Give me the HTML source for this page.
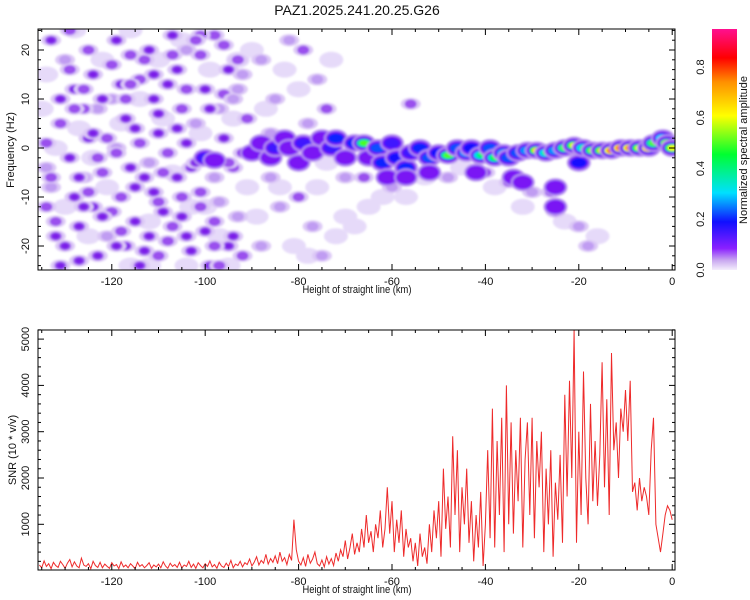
<!DOCTYPE html>
<html><head><meta charset="utf-8">
<style>
html,body{margin:0;padding:0;background:#fff;}
svg{display:block;font-family:"Liberation Sans",sans-serif;}
</style></head>
<body>
<svg id="chart" width="750" height="600" viewBox="0 0 750 600" xmlns="http://www.w3.org/2000/svg">
<defs>
<filter id="blur" x="-50%" y="-50%" width="200%" height="200%"><feGaussianBlur stdDeviation="1"/></filter>
<clipPath id="clipTop"><rect x="38" y="29" width="637" height="241"/></clipPath>
<clipPath id="clipBot"><rect x="38" y="330" width="637" height="240"/></clipPath>
<linearGradient id="cbar" x1="0" y1="1" x2="0" y2="0">
<stop offset="0" stop-color="#f4eefc"/><stop offset="0.04" stop-color="#c9a8f0"/>
<stop offset="0.09" stop-color="#8a20ff"/><stop offset="0.2" stop-color="#1010ff"/>
<stop offset="0.32" stop-color="#00e0ff"/><stop offset="0.48" stop-color="#00ff30"/>
<stop offset="0.64" stop-color="#ffff00"/><stop offset="0.78" stop-color="#ff9000"/>
<stop offset="0.88" stop-color="#ff0000"/><stop offset="1" stop-color="#ff1090"/>
</linearGradient>
</defs>
<text x="357" y="15" font-size="14" text-anchor="middle" fill="#111">PAZ1.2025.241.20.25.G26</text>
<g id="spec"></g>
<g id="snr"></g>
</svg>
<script>
// ---- data: spectrogram ----
const noiseKm=[-133,-130,-128,-131,-129,-133,-128,-132,-130,-127,-125,-124,-123,-125,-122,-124,-121,-123,-119,-118,-117,-119,-116,-118,-115,-117,-114,-113,-112,-111,-110,-112,-111,-109,-108,-107,-106,-105,-104,-106,-105,-103,-101,-100,-102,-99,-101,-100,-99,-96,-95,-97,-96,-94,-97,-95,-93,-92,-134,-126,-121,-115,-108,-103,-98,-113,-120,-127,-110,-104,-116,-131,-126,-120,-108,-98,-93,-92,-88,-85,-82,-79,-76,-74,-78,-86,-84,-80,-77,-75,-88,-56,-60,-48,-40,-35,-30,-26,-25,-20,-18,-86,-70,-66,
-134,-132,-129,-127,-126,-124,-122,-120,-119,-117,-115,-114,-112,-110,-109,-107,-106,-104,-102,-101,-99,-98,-96,-94,-93,-91,-134,-131,-128,-125,-122,-119,-116,-113,-110,-107,-104,-101,-98,-95,-92,-133,-129,-126,-123,-118,-114,-111,-105,-102,-97,-94];
const noiseHz=[22,18,12,5,-2,-8,-10,-15,-20,-23,20,15,8,2,-5,-12,-18,-22,22,13,6,0,-4,-10,-15,-20,-24,18,20,10,3,-3,-9,-13,-19,23,16,8,1,-6,-14,-21,19,12,5,-2,-9,-17,-24,21,16,8,2,-4,-11,-20,12,-1,-4,-6,2,4,-1,-4,-6,-6,-13,-16,-22,20,19,10,8,10,13,23,-14,-22,18,10,22,20,14,8,5,-6,-12,-10,-16,-22,-20,9,-8,-6,-5,-7,-9,-9,-13,-16,-20,3,-6,-6,
1,-18,16,-6,12,3,-14,17,-20,10,-8,14,-18,7,-5,-16,4,12,-3,-12,8,-15,11,-18,18,6,-12,-24,8,-9,10,-1,13,-21,-11,19,-18,23,-20,-3,15,-6,24,-12,-2,-17,1,15,-10,22,-24,10];
const noiseAmp=[.08,.05,.1,.06,.08,.05,.1,.06,.1,.08,.06,.1,.05,.08,.06,.1,.05,.1,.08,.1,.08,.05,.1,.06,.1,.08,.1,.06,.1,.08,.1,.05,.08,.1,.06,.08,.1,.06,.08,.1,.08,.1,.06,.08,.05,.1,.06,.08,.1,.06,.1,.05,.08,.06,.05,.08,.05,.08,.05,.1,.06,.1,.06,.08,.05,.08,.06,.08,.06,.05,.06,.1,.06,.05,.08,.06,.05,.06,.03,.04,.03,.06,.05,.06,.04,.05,.03,.06,.04,.03,.03,.07,.05,.04,.08,.07,.05,.06,.06,.04,.03,.05,.05,.06,
.07,.09,.06,.1,.07,.08,.09,.06,.1,.07,.09,.06,.08,.1,.07,.06,.09,.07,.08,.06,.09,.07,.06,.08,.06,.07,.06,.08,.07,.06,.09,.07,.06,.08,.07,.06,.08,.07,.06,.07,.05,.07,.06,.08,.06,.07,.06,.08,.06,.07,.06,.05];
const lightKm=[-134,-132,-130,-127,-125,-122,-121,-118,-116,-114,-112,-110,-107,-105,-103,-101,-99,-97,-94,-91,-90,-89,-87,-83,-81,-78,-76,-73,-72,-70,-68,-65,-62,-57,-53,-45,-38,-32,-23,-16,-95,-112,-128,-116,-104,-135,-124,-109,-100,-93,-84,-80,-74];
const lightHz=[15,0,-12,4,-18,18,-8,5,-24,10,-15,18,-5,22,-12,3,16,-18,6,-8,20,-14,8,16,-20,-22,-8,18,-18,-14,-16,-12,-10,-10,-6,-4,-8,-12,-15,-18,-24,-24,24,24,-24,8,-2,6,-12,18,-8,12,-3];
const ridgeKm=[-100,-98,-90,-88,-86,-85,-83,-82,-80,-79,-77,-75,-73,-72,-70,-68,-66,-65,-63,-62,-60,-59,-57,-56,-54,-52,-50,-48,-46,-44,-43,-41,-39,-38,-36,-35,-33,-31,-29,-27,-25,-23,-21,-20,-19,-17,-15,-13,-11,-9,-7,-5,-4,-2,-1,0,-61,-57,-52,-42,-34,-32,-25,-25];
const ridgeHz=[-2,-2.5,-1,1,-2,0,2,0,-3,1,-1,2,0,2,-2,1,1,-2,0,-3,1,-2,-4,-1,0,-2,-1,-1.5,0,-1,0,-1.5,0,-2,-1,-2,-1,-0.5,-0.5,-1,-0.5,0,0.5,-3,0,-0.5,-0.5,-0.5,0,0,0,0,1,2,1,0,-6,-6,-5,-5,-6,-7,-8,-12];
const ridgeAmp=[.15,.12,.1,.1,.12,.15,.1,.12,.1,.15,.12,.1,.15,.2,.12,.2,.5,.1,.3,.2,.15,.25,.2,.15,.2,.3,.25,.5,.3,.35,.25,.4,.3,.45,.35,.3,.3,.35,.65,.4,.35,.5,.6,.25,.4,.55,.65,.8,.85,.8,.6,.85,.5,.4,.7,.6,.1,.12,.08,.12,.1,.12,.1,.08];
const xTicks=[-120,-100,-80,-60,-40,-20,0];
const hzTicks=[-20,-10,0,10,20];
const cbTicks=[0,0.2,0.4,0.6,0.8];
const snrTicks=[1000,2000,3000,4000,5000];
// ---- data: SNR (0.5 km steps from -135.5 km) ----
const snrStartKm=-135.5, snrStepKm=0.5;
const snrValues=[120,60,210,90,150,40,180,110,70,200,130,50,160,240,80,190,100,60,270,120,90,150,40,200,110,70,180,60,140,90,50,170,100,130,40,190,80,120,60,150,100,40,180,90,130,60,110,170,50,120,80,140,60,190,100,50,160,90,130,70,180,60,120,90,200,70,140,50,170,110,60,150,90,210,80,130,50,180,100,70,160,90,220,60,140,110,200,80,170,130,250,100,180,300,120,220,160,350,140,260,180,320,150,400,200,280,130,350,220,1100,450,200,120,280,90,350,160,250,400,150,100,230,80,300,140,260,110,380,200,450,300,650,250,500,800,350,600,400,900,500,1200,600,850,400,1000,700,1300,500,900,1800,800,1500,400,1100,600,1300,300,900,500,700,200,600,100,800,300,500,150,1000,400,1300,700,1500,300,2200,900,1600,500,2900,1200,2600,400,1800,1000,2200,600,1500,200,1200,500,1700,100,1000,2600,700,3500,500,2800,1200,3300,400,4000,1000,3200,800,2600,1500,3300,500,2400,3200,1200,3300,700,2800,1800,3000,400,2200,1000,2600,300,1900,1100,2500,600,3800,1600,4100,2000,5200,600,3000,1200,4300,2000,1000,3600,1500,2800,1400,2500,4500,1800,3700,1200,4700,2600,3200,2000,3500,3000,3900,2800,4100,1700,1900,1300,2000,1500,1800,1600,1200,2600,3300,1000,700,400,800,1200,1400,1300,1100];

// ---- scales ----
const NS="http://www.w3.org/2000/svg";
const X0=38,X1=675,KMIN=-135.8,KMAX=0.6;
const xs=km=>X0+(km-KMIN)/(KMAX-KMIN)*(X1-X0);
const yf=hz=>148-hz*4.9;
const ys=v=>570.6-v*0.0463;
const yc=a=>270-a*(270-29)/0.95;
function el(tag,attrs,parent){const e=document.createElementNS(NS,tag);for(const k in attrs)e.setAttribute(k,attrs[k]);parent.appendChild(e);return e;}
const stops=[[0,[244,238,252]],[0.04,[201,168,240]],[0.09,[138,32,255]],[0.2,[16,16,255]],[0.32,[0,224,255]],[0.48,[0,255,48]],[0.64,[255,255,0]],[0.78,[255,144,0]],[0.88,[255,0,0]],[1,[255,16,144]]];
function cmap(a){a=Math.max(0,Math.min(0.99,a/0.95));for(let i=1;i<stops.length;i++){if(a<=stops[i][0]){const t=(a-stops[i-1][0])/(stops[i][0]-stops[i-1][0]);const c=stops[i-1][1].map((v,j)=>Math.round(v+(stops[i][1][j]-v)*t));return `rgb(${c})`;}}return 'rgb(255,16,144)';}

// ---- spectrogram ----
const spec=document.getElementById('spec');
const plotT=el('g',{'clip-path':'url(#clipTop)'},spec);
const blobs=el('g',{filter:'url(#blur)'},plotT);
lightKm.forEach((k,i)=>{
  const e=el('ellipse',{cx:xs(k),cy:yf(lightHz[i]),rx:12,ry:8,fill:'#e6daf9'},blobs);
  
  
});
noiseKm.forEach((k,i)=>{
  const g=el('g',{},blobs);
  
  
  el('ellipse',{cx:xs(k),cy:yf(noiseHz[i]),rx:10,ry:6,fill:'#dcc8f6'},g);
  el('ellipse',{cx:xs(k),cy:yf(noiseHz[i]),rx:6,ry:4.5,fill:noiseAmp[i]>=0.06?'#9a50ee':'#c09cf2'},g);
  if(noiseAmp[i]>=0.08) el('ellipse',{cx:xs(k),cy:yf(noiseHz[i]),rx:4,ry:3,fill:'#7a1ee8'},g);
});
ridgeKm.forEach((k,i)=>{
  const g=el('g',{},blobs);
  
  
  const cx=xs(k),cy=yf(ridgeHz[i]),a=ridgeAmp[i];
  el('ellipse',{cx:cx,cy:cy,rx:12,ry:9,fill:'#b690f0'},g);
  el('ellipse',{cx:cx,cy:cy,rx:10,ry:7,fill:'#7a14f4'},g);
  if(a>0.12) el('ellipse',{cx:cx,cy:cy,rx:8,ry:5,fill:cmap(Math.min(a,0.2))},g);
  if(a>0.2) el('ellipse',{cx:cx,cy:cy,rx:7,ry:4,fill:cmap(a*0.75)},g);
  if(a>0.35) el('ellipse',{cx:cx,cy:cy,rx:4.5,ry:3,fill:cmap(a)},g);
});
function frame(parent,y0,y1,name){
  const r=el('rect',{x:X0,y:y0,width:X1-X0,height:y1-y0,fill:'none',stroke:'#000','stroke-width':1},parent);
  
  
  for(let k=-135;k<=0;k+=5){const x=xs(k),L=(k%20===0)?6:3;
    el('line',{x1:x,x2:x,y1:y1,y2:y1-L,stroke:'#000'},parent);
    el('line',{x1:x,x2:x,y1:y0,y2:y0+L,stroke:'#000'},parent);}
  xTicks.forEach(k=>{const t=el('text',{x:xs(k),y:y1+15,'font-size':11,'text-anchor':'middle',fill:'#111'},parent);t.textContent=k;
    
    });
  const xl=el('text',{x:357,y:y1+23,'font-size':11,'text-anchor':'middle',fill:'#111',transform:`translate(357 0) scale(0.85 1) translate(-357 0)`},parent);
  xl.textContent='Height of straight line (km)';
  
  
}
frame(spec,29,270,'spectrogram-frame');
for(let h=-24;h<=24;h+=2){const y=yf(h),L=(h%10===0)?6:3;
  el('line',{x1:X0,x2:X0+L,y1:y,y2:y,stroke:'#000'},spec);
  el('line',{x1:X1,x2:X1-L,y1:y,y2:y,stroke:'#000'},spec);}
hzTicks.forEach(h=>{const t=el('text',{x:0,y:0,'font-size':11,'text-anchor':'middle',fill:'#111',transform:`translate(29 ${yf(h)}) rotate(-90)`},spec);t.textContent=h;
  
  });
const yl=el('text',{x:0,y:0,'font-size':11,'text-anchor':'middle',fill:'#111',transform:'translate(14 150) rotate(-90)'},spec);
yl.textContent='Frequency (Hz)';


// colorbar
const cb=el('rect',{x:712,y:29,width:25,height:241,fill:'url(#cbar)'},spec);


cbTicks.forEach(a=>{const t=el('text',{x:0,y:0,'font-size':11,'text-anchor':'middle',fill:'#111',transform:`translate(704 ${yc(a)}) rotate(-90)`},spec);t.textContent=a.toFixed(1);
  
  });
const cbl=el('text',{x:0,y:0,'font-size':11,'text-anchor':'middle',fill:'#111',transform:'translate(747 150) rotate(-90)'},spec);
cbl.textContent='Normalized spectral amplitude';



// ---- SNR ----
const snr=document.getElementById('snr');
const plotB=el('g',{'clip-path':'url(#clipBot)'},snr);
const pts=snrValues.map((v,i)=>`${xs(snrStartKm+i*snrStepKm).toFixed(1)},${ys(v).toFixed(1)}`).join(' ');
const line=el('polyline',{points:pts,fill:'none',stroke:'#ee2a2a','stroke-width':1},plotB);


frame(snr,330,570,'snr-frame');
for(let v=200;v<=5200;v+=200){const y=ys(v),L=(v%1000===0)?6:3;
  el('line',{x1:X0,x2:X0+L,y1:y,y2:y,stroke:'#000'},snr);
  el('line',{x1:X1,x2:X1-L,y1:y,y2:y,stroke:'#000'},snr);}
snrTicks.forEach(v=>{const t=el('text',{x:0,y:0,'font-size':11,'text-anchor':'middle',fill:'#111',transform:`translate(29 ${ys(v)}) rotate(-90)`},snr);t.textContent=v;
  
  });
const sl=el('text',{x:0,y:0,'font-size':11,'text-anchor':'middle',fill:'#111',transform:'translate(16 450) rotate(-90)'},snr);
sl.textContent='SNR (10 * v/v)';


</script>
</body></html>
